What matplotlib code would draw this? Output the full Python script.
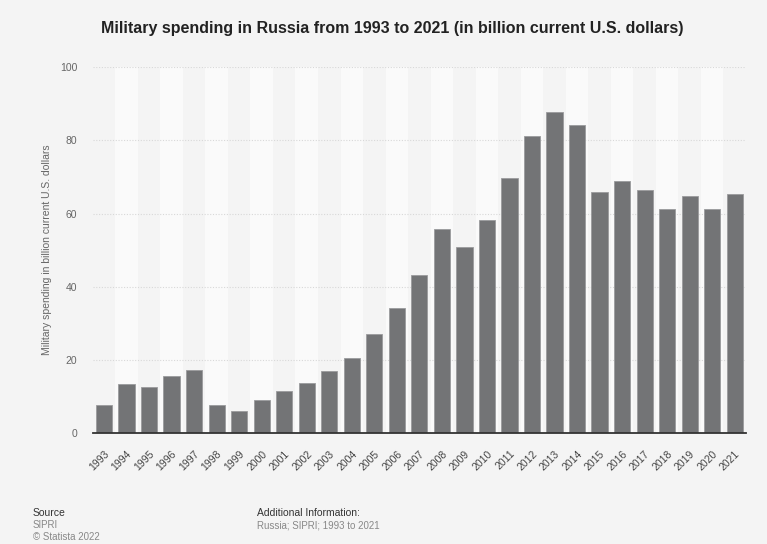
import matplotlib
matplotlib.use("Agg")
import matplotlib.pyplot as plt

years = [str(y) for y in range(1993, 2022)]
spending = [7.6, 13.4, 12.6, 15.7, 17.3, 7.6, 6.2, 9.0, 11.5, 13.8, 16.9, 20.7,
            27.0, 34.3, 43.2, 55.7, 51.0, 58.3, 69.7, 81.1, 87.8, 84.2,
            66.0, 68.8, 66.6, 61.3, 64.7, 61.3, 65.5]
yticks = [0, 20, 40, 60, 80, 100]

title = "Military spending in Russia from 1993 to 2021 (in billion current U.S. dollars)"
ylabel = "Military spending in billion current U.S. dollars"

plt.rcParams['font.family'] = ['Liberation Sans', 'DejaVu Sans']

bg = "#f4f4f4"
fig = plt.figure(figsize=(7.67, 5.44), dpi=100, facecolor=bg)
ax = fig.add_axes([0.1209, 0.2035, 0.8517, 0.6728])
ax.set_facecolor(bg)

n = len(years)
x = list(range(n))
for i in x:
    if i % 2 == 1:
        ax.axvspan(i - 0.5, i + 0.5, color="#fafafa", zorder=0, lw=0)

for t in yticks[1:]:
    ax.axhline(t, color="#d8d8d8", lw=0.8, ls=(0, (1, 1.5)), zorder=1)

ax.bar(x, spending, width=0.72, color="#737476", edgecolor="#9a9b9d",
       linewidth=0.6, zorder=3)

ax.set_xlim(-0.5, n - 0.5)
ax.set_ylim(0, 100)
ax.set_yticks(yticks)
ax.set_yticklabels([str(t) for t in yticks], fontsize=7.5, color="#666666")
ax.set_xticks(x)
ax.set_xticklabels(years, rotation=45, ha="right", rotation_mode="anchor",
                   fontsize=7.5, color="#444444")
ax.tick_params(axis="both", length=0)
ax.tick_params(axis="y", pad=11)
ax.tick_params(axis="x", pad=11)
for s in ["top", "right", "left"]:
    ax.spines[s].set_visible(False)
ax.spines["bottom"].set_color("#333333")
ax.spines["bottom"].set_linewidth(1.3)
ax.spines["bottom"].set_zorder(4)

fig.text(47 / 767, 1 - 250 / 544, ylabel, rotation=90, ha="center", va="center",
         fontsize=7.5, color="#666666")

fig.text(392 / 767, 1 - 28 / 544, title, ha="center", va="center",
         fontsize=11.5, fontweight="bold", color="#222222")

fig.text(33 / 767, 1 - 513 / 544, "Source", ha="left", va="center",
         fontsize=7.5, color="#333333")
fig.text(33 / 767, 1 - 525 / 544, "SIPRI", ha="left", va="center",
         fontsize=7, color="#888888")
fig.text(33 / 767, 1 - 537 / 544, "\u00a9 Statista 2022", ha="left", va="center",
         fontsize=7, color="#888888")
fig.text(257 / 767, 1 - 513 / 544, "Additional Information:", ha="left", va="center",
         fontsize=7.5, color="#333333")
fig.text(257 / 767, 1 - 525 / 544, "Russia; SIPRI; 1993 to 2021", ha="left", va="center",
         fontsize=7, color="#888888")

fig.savefig("out.png", dpi=100, facecolor=bg)
